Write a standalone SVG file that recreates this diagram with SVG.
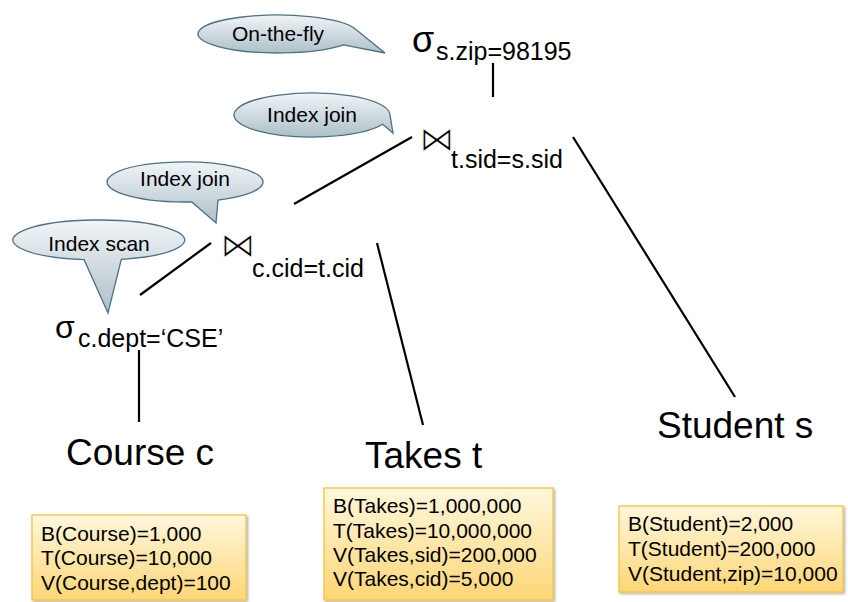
<svg xmlns="http://www.w3.org/2000/svg" width="848" height="602" viewBox="0 0 848 602">
<style>
  .t{font-family:"Liberation Sans",Arial,sans-serif;fill:#000}
  .big{font-size:37px}
  .sub{font-size:25px}
  .sig{font-size:36px}
  .bt{font-family:"DejaVu Sans",sans-serif;font-size:35px;fill:#000;stroke:#fff;stroke-width:1.1;paint-order:fill stroke}
  .bub{font-size:21px}
  .info{font-size:21px}
  .ln{stroke:#000;stroke-width:2.2;fill:none;stroke-linecap:butt}
  .callout{fill:url(#gb);stroke:#4d7183;stroke-width:1.3}
  .box{fill:url(#gy);stroke:#f3c443;stroke-width:1.3}
</style>
<defs>
  <linearGradient id="gb" x1="0" y1="0" x2="0" y2="1">
    <stop offset="0" stop-color="#f1f5f7"/>
    <stop offset="1" stop-color="#adc0c8"/>
  </linearGradient>
  <linearGradient id="gy" x1="0" y1="0" x2="0" y2="1">
    <stop offset="0" stop-color="#fff7dc"/>
    <stop offset="1" stop-color="#fdd676"/>
  </linearGradient>
  <filter id="sh" x="-10%" y="-10%" width="130%" height="130%">
    <feDropShadow dx="1.5" dy="1.5" stdDeviation="1.2" flood-color="#000" flood-opacity="0.3"/>
  </filter>
</defs>

<g id="connectors">
  <line class="ln" x1="493" y1="63" x2="493" y2="97"/>
  <line class="ln" x1="412" y1="137" x2="294" y2="204"/>
  <line class="ln" x1="573" y1="137" x2="735" y2="397"/>
  <line class="ln" x1="211" y1="243" x2="140" y2="295"/>
  <line class="ln" x1="377" y1="243" x2="423" y2="425"/>
  <line class="ln" x1="139" y1="350" x2="139" y2="422"/>
</g>

<g id="callout-onthefly">
  <path class="callout" d="M 355.3,29.1 A 80,19 0 1 0 343.5,44.9 L 385,53 Z"/>
  <text class="t bub" x="278" y="41" text-anchor="middle">On-the-fly</text>
</g>
<g id="callout-indexjoin-top">
  <path class="callout" d="M 389.7,113.1 A 78,22 0 1 0 382.7,124.3 L 393,133 Z"/>
  <text class="t bub" x="312" y="122" text-anchor="middle">Index join</text>
</g>
<g id="callout-indexjoin-low">
  <path class="callout" d="M 218,200.1 A 78,20 0 1 0 191.8,201.9 L 216,223 Z"/>
  <text class="t bub" x="185" y="186" text-anchor="middle">Index join</text>
</g>
<g id="callout-indexscan">
  <path class="callout" d="M 121.3,259.3 A 86,20 0 1 0 84.1,259.7 L 108,313 Z"/>
  <text class="t bub" x="99" y="251" text-anchor="middle">Index scan</text>
</g>

<g id="select-zip">
  <text class="t sig" x="412" y="52">σ</text>
  <text class="t sub" x="436" y="60">s.zip=98195</text>
</g>
<g id="join-sid">
  <text class="bt" x="419" y="151">⋈</text>
  <text class="t sub" x="451" y="168">t.sid=s.sid</text>
</g>
<g id="join-cid">
  <text class="bt" x="220" y="257">⋈</text>
  <text class="t sub" x="252" y="277">c.cid=t.cid</text>
</g>
<g id="select-dept">
  <text class="t" style="font-size:32px" x="55" y="338">σ</text>
  <text class="t sub" x="78" y="347">c.dept=‘CSE’</text>
</g>

<g id="course">
  <text class="t big" x="66" y="465">Course c</text>
</g>
<g id="takes">
  <text class="t big" x="365" y="468">Takes t</text>
</g>
<g id="student">
  <text class="t big" x="657" y="438">Student s</text>
</g>

<g id="stats-course">
  <rect class="box" filter="url(#sh)" x="32" y="515" width="214" height="85"/>
  <text class="t info" x="41" y="541">B(Course)=1,000</text>
  <text class="t info" x="41" y="565">T(Course)=10,000</text>
  <text class="t info" x="41" y="590">V(Course,dept)=100</text>
</g>
<g id="stats-takes">
  <rect class="box" filter="url(#sh)" x="324" y="488" width="229" height="112"/>
  <text class="t info" x="333" y="513">B(Takes)=1,000,000</text>
  <text class="t info" x="333" y="538">T(Takes)=10,000,000</text>
  <text class="t info" x="333" y="562">V(Takes,sid)=200,000</text>
  <text class="t info" x="333" y="586">V(Takes,cid)=5,000</text>
</g>
<g id="stats-student">
  <rect class="box" filter="url(#sh)" x="619" y="506" width="224" height="86"/>
  <text class="t info" x="628" y="531">B(Student)=2,000</text>
  <text class="t info" x="628" y="556">T(Student)=200,000</text>
  <text class="t info" x="628" y="581">V(Student,zip)=10,000</text>
</g>
</svg>
